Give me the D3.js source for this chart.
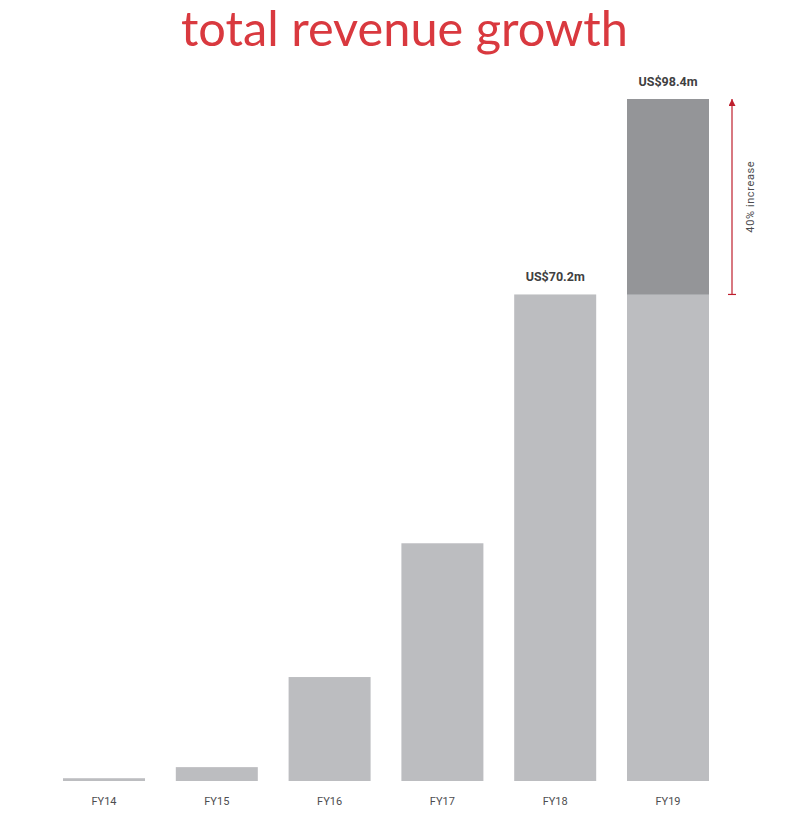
<!DOCTYPE html>
<meta charset="utf-8">
<style>
  body { margin: 0; background: #fff; }
</style>
<script src="https://d3js.org/d3.v7.min.js"></script>
<body>
<div id="chart"></div>
<script>

var years = ["FY14", "FY15", "FY16", "FY17", "FY18", "FY19"];
var revenue = [0.4, 2.0, 15.0, 34.3, 70.2, 98.4];
var labelled = ["FY18", "FY19"];
var valueLabels = ["US$70.2m", "US$98.4m"];
var increaseText = "40% increase";

var width = 789, height = 819;
var baseY = 781, topY = 99;

var svg = d3.select("#chart").append("svg")
    .attr("width", width)
    .attr("height", height);

var x = d3.scaleBand()
    .domain(years)
    .range([63, 709])
    .paddingInner(0.273)
    .paddingOuter(0);

var y = d3.scaleLinear()
    .domain([0, 98.4])
    .range([baseY, topY]);

// title
var title = svg.append("text")
    .attr("x", 404.5)
    .attr("y", 46)
    .attr("text-anchor", "middle")
    .attr("fill", "#d9393f")
    .style("font-family", "'Source Sans Pro', Lato, 'Open Sans', sans-serif")
    .style("font-size", "50px")
    .text("total revenue growth");
var tw = title.node().getComputedTextLength();
title.style("font-size", (50 * 447 / tw) + "px");

// bars
svg.selectAll(".bar")
    .data(years)
  .enter().append("rect")
    .attr("class", "bar")
    .attr("x", function(d) { return x(d); })
    .attr("width", x.bandwidth())
    .attr("y", function(d, i) { return y(revenue[i]); })
    .attr("height", function(d, i) { return baseY - y(revenue[i]); })
    .attr("fill", "#bcbdc0");

// FY19 growth part over FY18 level
var prev = revenue[4], last = revenue[5];
svg.append("rect")
    .attr("x", x("FY19"))
    .attr("width", x.bandwidth())
    .attr("y", y(last))
    .attr("height", y(prev) - y(last))
    .attr("fill", "#949598");

// value labels
svg.selectAll(".val")
    .data(labelled)
  .enter().append("text")
    .attr("class", "val")
    .attr("x", function(d) { return x(d) + x.bandwidth() / 2; })
    .attr("y", function(d) { return y(revenue[years.indexOf(d)]) - 13; })
    .attr("text-anchor", "middle")
    .attr("fill", "#404041")
    .style("font-family", "Roboto, 'DejaVu Sans', sans-serif")
    .style("font-weight", "bold")
    .style("font-size", "12.5px")
    .text(function(d, i) { return valueLabels[i]; });

// axis
var axis = svg.append("g")
    .attr("transform", "translate(0," + baseY + ")")
    .call(d3.axisBottom(x).tickSize(0).tickPadding(16));
axis.select(".domain").remove();
axis.selectAll("text")
    .attr("fill", "#4d4d4f")
    .style("font-family", "Roboto, 'DejaVu Sans', sans-serif")
    .style("font-size", "11px");

// increase arrow
var ax = 732;
svg.append("defs").append("marker")
    .attr("id", "head")
    .attr("viewBox", "0 0 10 10")
    .attr("refX", 10).attr("refY", 5)
    .attr("markerWidth", 7).attr("markerHeight", 7)
    .attr("markerUnits", "userSpaceOnUse")
    .attr("orient", "auto")
  .append("path")
    .attr("d", "M0,0L10,5L0,10Z")
    .attr("fill", "#be1e2d");

svg.append("line")
    .attr("x1", ax).attr("x2", ax)
    .attr("y1", y(prev)).attr("y2", y(last))
    .attr("stroke", "#be1e2d")
    .attr("stroke-width", 1.2)
    .attr("marker-end", "url(#head)");
svg.append("line")
    .attr("x1", ax - 4).attr("x2", ax + 4)
    .attr("y1", y(prev)).attr("y2", y(prev))
    .attr("stroke", "#be1e2d")
    .attr("stroke-width", 1.2);

svg.append("text")
    .attr("transform", "translate(754," + ((y(prev) + y(last)) / 2) + ") rotate(-90)")
    .attr("text-anchor", "middle")
    .attr("fill", "#4d4d4f")
    .style("font-family", "Roboto, 'DejaVu Sans', sans-serif")
    .style("font-size", "11px")
    .style("letter-spacing", "0.6px")
    .text(increaseText);

</script>
</body>
